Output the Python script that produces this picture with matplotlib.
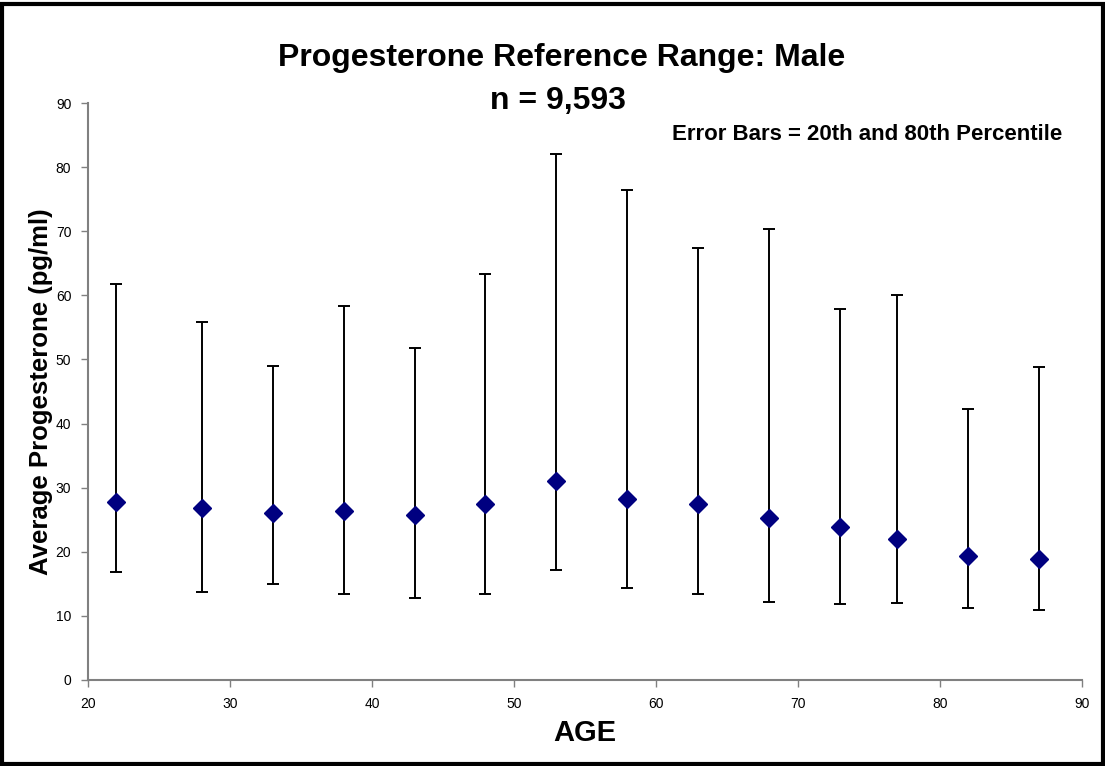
import matplotlib
matplotlib.use("Agg")
import matplotlib.pyplot as plt
from matplotlib.patches import Rectangle

plt.rcParams['font.family'] = ['Liberation Sans', 'DejaVu Sans']

ages = [22, 28, 33, 38, 43, 48, 53, 58, 63, 68, 73, 77, 82, 87]
means = [27.8, 26.8, 26.0, 26.4, 25.8, 27.4, 31.0, 28.3, 27.4, 25.2, 23.8, 22.0, 19.3, 18.8]
p80 = [61.8, 55.8, 49.0, 58.4, 51.8, 63.4, 82.0, 76.4, 67.4, 70.3, 57.8, 60.0, 42.3, 48.9]
p20 = [16.8, 13.8, 15.0, 13.4, 12.8, 13.4, 17.1, 14.4, 13.4, 12.2, 11.8, 12.0, 11.2, 10.9]

xticks = [20, 30, 40, 50, 60, 70, 80, 90]
yticks = [0, 10, 20, 30, 40, 50, 60, 70, 80, 90]

fig = plt.figure(figsize=(11.05, 7.66), dpi=100)
ax = fig.add_axes([0.0796, 0.1123, 0.8994, 0.7532])

lower = [m - l for m, l in zip(means, p20)]
upper = [u - m for m, u in zip(means, p80)]
ax.errorbar(ages, means, yerr=[lower, upper], fmt='none', ecolor='black',
            elinewidth=1.4, capsize=4.5, capthick=1.4, zorder=2)
ax.plot(ages, means, linestyle='none', marker='D', markersize=9,
        color='#000080', markeredgecolor='#000080', zorder=3)

ax.set_xlim(20, 90)
ax.set_ylim(0, 90)
ax.set_xticks(xticks)
ax.set_yticks(yticks)
for s in ['top', 'right']:
    ax.spines[s].set_visible(False)
for s in ['left', 'bottom']:
    ax.spines[s].set_color('#808080')
    ax.spines[s].set_linewidth(1.5)
ax.tick_params(axis='both', direction='out', length=5, width=1, color='#808080',
               labelsize=10, pad=7)

ax.set_xlabel('AGE', fontsize=21, fontweight='bold', labelpad=6)
ax.set_ylabel('Average Progesterone (pg/ml)', fontsize=18.5, fontweight='bold', labelpad=2)

fig.text(0.508, 0.924, 'Progesterone Reference Range: Male', ha='center', va='center',
         fontsize=23, fontweight='bold')
fig.text(0.505, 0.868, 'n = 9,593', ha='center', va='center',
         fontsize=23, fontweight='bold')
fig.text(0.961, 0.824, 'Error Bars = 20th and 80th Percentile', ha='right', va='center',
         fontsize=16, fontweight='bold')

fig.patches.append(Rectangle((0.002, 0.003), 0.996, 0.992, transform=fig.transFigure,
                             fill=False, edgecolor='black', linewidth=3))

fig.savefig('out.png', dpi=100)
